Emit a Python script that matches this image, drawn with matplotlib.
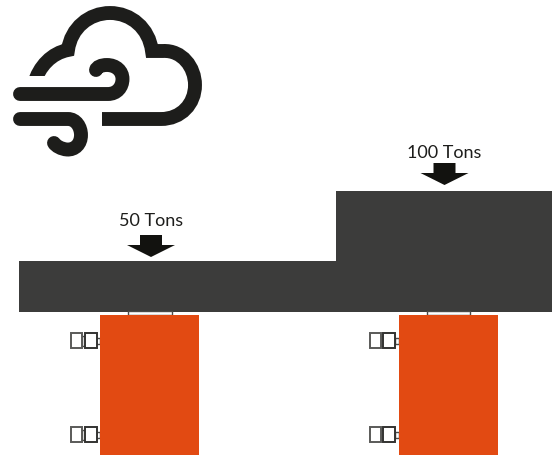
import matplotlib
matplotlib.use('Agg')
import matplotlib.pyplot as plt
from matplotlib.patches import PathPatch, Polygon, Rectangle
from matplotlib.path import Path

# everything is measured in pixels of the 552x455 picture
load_labels = ['50 Tons', '100 Tons']
load_x = [151, 444.5]
load_label_y = [221, 153]
load_tip_y = [257, 185]

# beam: left, width, top, height
beam_left = [19, 336]
beam_width = [317, 216]
beam_top = [261, 191]
beam_height = [51, 121]

# columns
col_left = [100, 399]
col_width = [99, 99]
col_top = [315, 315]
col_height = [140, 140]

plate_left = [128, 427]
plate_width = [44, 43]

bolt_rows = [340.5, 434.5]
bolt_left = [71, 369.5]

dark = '#3c3c3b'
black = '#1d1d1b'
orange = '#e24a12'
bolt_grey = '#4a4a48'

M, L, C = Path.MOVETO, Path.LINETO, Path.CURVE4

cloud_pts = [(34, 84), (39, 66), (52, 53), (68, 50),
             (71, 28), (89, 13), (110, 13),
             (131, 13), (149, 28), (152, 51),
             (163, 51), (182, 50), (195, 67), (195, 85),
             (195, 104), (181, 119), (161, 119),
             (102, 119)]
cloud_codes = [M, C, C, C, C, C, C, C, C, C, L, C, C, C, C, C, C, L]

wind_top_pts = [(20, 94), (108, 94), (117, 94), (122.5, 87), (122.5, 79),
                (122.5, 71), (116, 65), (107, 65), (101, 65), (97, 67), (96, 70)]
wind_top_codes = [M, L, C, C, C, C, C, C, C, C, C]

wind_low_pts = [(20, 119), (68, 119), (76, 119), (81, 127), (81, 135),
                (81, 144), (75, 150), (67, 149.5), (61, 149), (56, 146), (54, 143)]
wind_low_codes = [M, L, C, C, C, C, C, C, C, C, C]

fig = plt.figure(figsize=(5.52, 4.55), dpi=100)
ax = fig.add_axes([0, 0, 1, 1])
ax.set_xlim(0, 552)
ax.set_ylim(455, 0)
ax.axis('off')

# wind icon
for pts, codes, cap in [(cloud_pts, cloud_codes, 'butt'),
                        (wind_top_pts, wind_top_codes, 'round'),
                        (wind_low_pts, wind_low_codes, 'round')]:
    icon = PathPatch(Path(pts, codes), fill=False, edgecolor=black,
                     linewidth=10, capstyle=cap, joinstyle='miter')
    ax.add_patch(icon)
    if cap == 'butt':
        # the left lobe of the cloud ends in a flat horizontal cut
        icon.set_clip_path(Polygon([(0, 0), (210, 0), (210, 130), (90, 130), (90, 75.5),
                                    (0, 75.5)], closed=True, transform=ax.transData))

# beam and columns
ax.bar(beam_left, beam_height, width=beam_width, bottom=beam_top, align='edge',
       color=dark, linewidth=0)

# bearing plates go under the column tops
for x, w in zip(plate_left, plate_width):
    ax.add_patch(Rectangle((x, 311), w, 4, facecolor='white', edgecolor=bolt_grey,
                           linewidth=1.0))

# bolts on the left of each column
for x in bolt_left:
    for y in bolt_rows:
        ax.add_patch(Rectangle((x + 25, y - 3), 4, 6, facecolor='white',
                               edgecolor=bolt_grey, linewidth=1.0))
        ax.add_patch(Rectangle((x + 11, y - 5), 2.5, 10, facecolor='white',
                               edgecolor=bolt_grey, linewidth=1.0))
        ax.add_patch(Rectangle((x + 13.5, y - 7.5), 12, 15, facecolor='white',
                               edgecolor='#333331', linewidth=1.4))
        ax.add_patch(Rectangle((x, y - 7.5), 11, 15, facecolor='white',
                               edgecolor='#5a5a58', linewidth=1.4))

ax.bar(col_left, col_height, width=col_width, bottom=col_top, align='edge',
       color=orange, linewidth=0, zorder=3)

# load arrows and labels
for label, x, ly, tip in zip(load_labels, load_x, load_label_y, load_tip_y):
    ax.add_patch(Polygon([(x - 11, tip - 22), (x + 11, tip - 22), (x + 11, tip - 12),
                          (x + 24, tip - 12), (x, tip), (x - 24, tip - 12),
                          (x - 11, tip - 12)], closed=True, facecolor='#12120f',
                         edgecolor='none'))
    ax.text(x, ly, label, ha='center', va='center', fontsize=13,
            family='Lato', color='#1d1d1b')

fig.savefig('out.png', dpi=100)
